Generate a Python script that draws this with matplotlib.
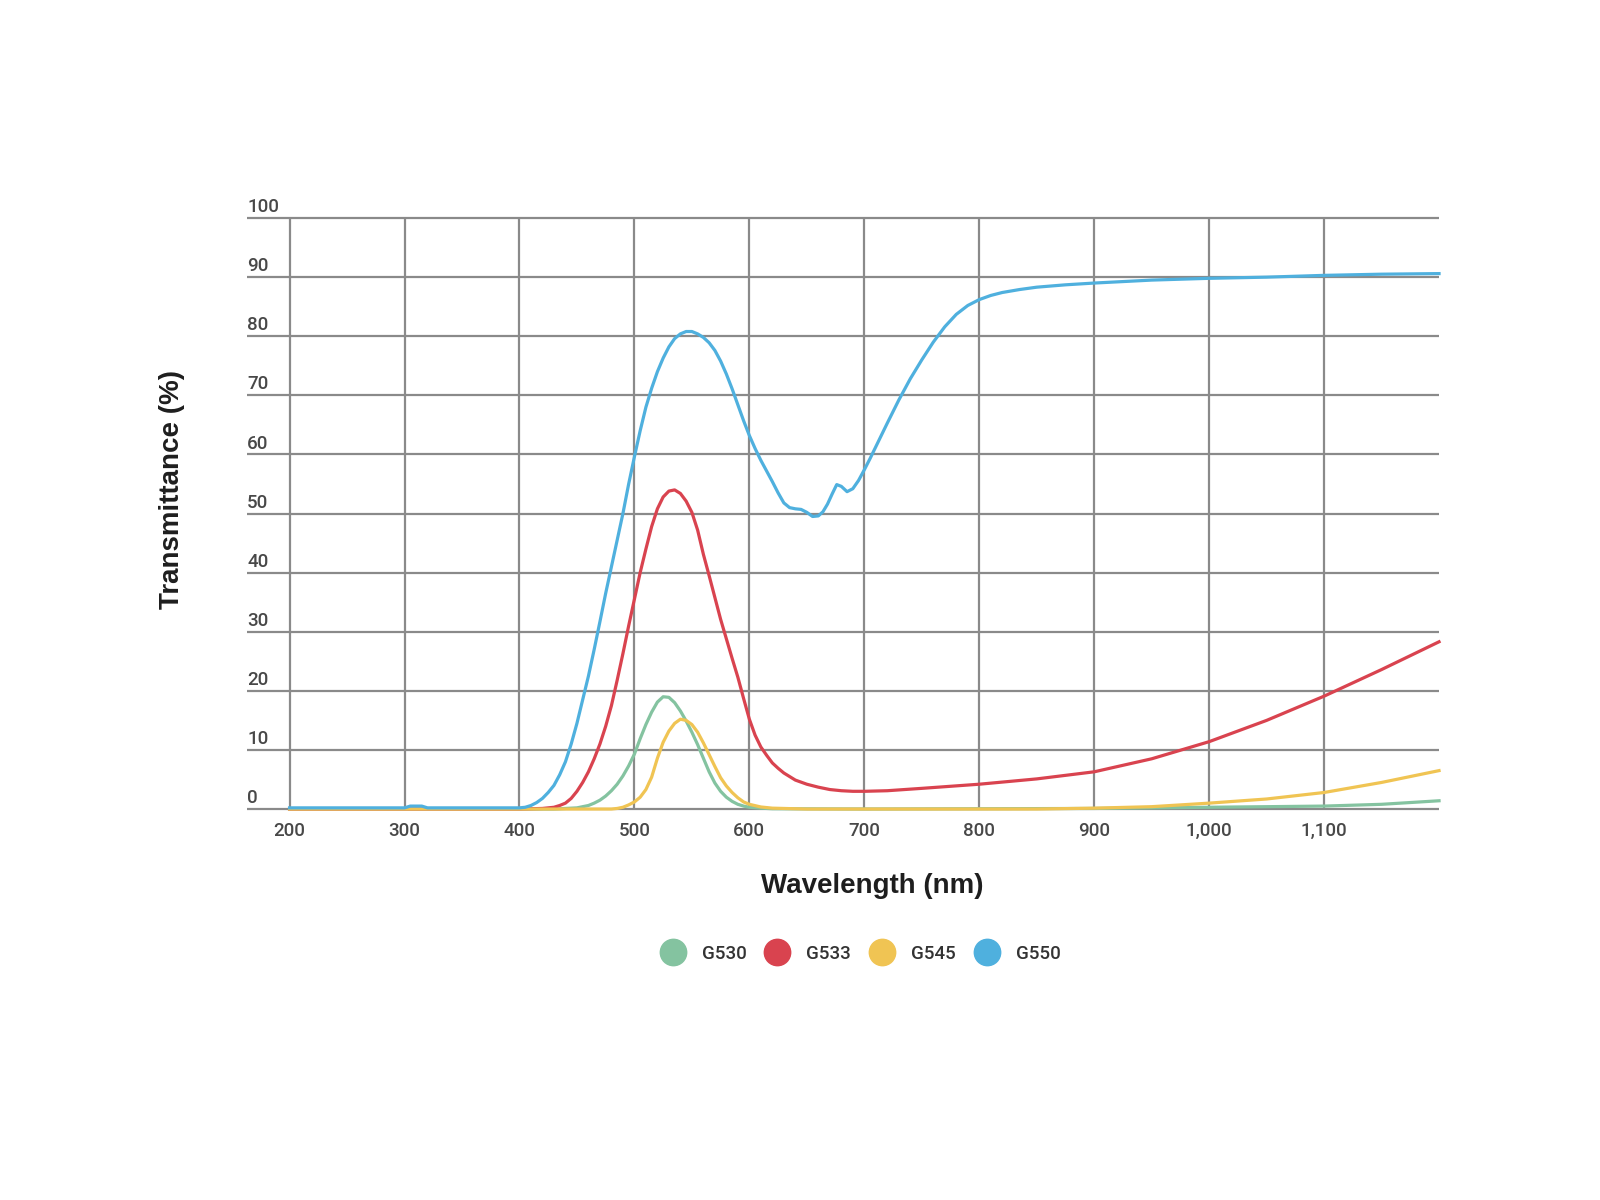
import numpy as np
import matplotlib.pyplot as plt
from matplotlib.lines import Line2D
from matplotlib.transforms import blended_transform_factory

plt.rcParams['font.family'] = ['Roboto', 'DejaVu Sans']

# transmittance curves
g550_nm = [200, 250, 300, 305, 315, 320, 350, 400, 405, 410, 415, 420, 425, 430,
           435, 440, 445, 450, 455, 460, 465, 470, 475, 480, 485, 490, 495, 500,
           505, 510, 515, 520, 525, 530, 535, 540, 545, 550, 555, 560, 565, 570,
           575, 580, 585, 590, 595, 600, 605, 610, 615, 620, 625, 630, 635, 640,
           645, 650, 655, 660, 664, 668, 672, 676, 680, 685, 690, 695, 700, 705,
           710, 720, 730, 740, 750, 760, 770, 780, 790, 800, 810, 820, 835, 850,
           875, 900, 950, 1000, 1050, 1100, 1150, 1200]
g550 = [0.2, 0.2, 0.2, 0.5, 0.5, 0.2, 0.2, 0.2, 0.3, 0.6, 1.1, 1.8, 2.8, 4,
        5.8, 8, 11, 14.5, 18.5, 22.5, 27, 31.7, 36.5, 41, 45.5, 50, 55, 59.6,
        64, 68, 71.2, 74, 76.3, 78.2, 79.6, 80.4, 80.8, 80.8, 80.4, 79.8, 78.9, 77.6,
        75.8, 73.6, 71.1, 68.4, 65.7, 63.2, 61, 59, 57.2, 55.4, 53.5, 51.8, 51, 50.8,
        50.7, 50.2, 49.5, 49.6, 50.3, 51.6, 53.3, 54.9, 54.6, 53.7, 54.2, 55.6, 57.4, 59.3,
        61.3, 65.3, 69.2, 72.8, 76, 79, 81.6, 83.7, 85.2, 86.2, 86.9, 87.4, 87.9, 88.3,
        88.7, 89, 89.5, 89.8, 90, 90.3, 90.5, 90.6]

g533_nm = [200, 400, 420, 430, 435, 440, 445, 450, 455, 460, 465, 470, 475, 480,
           485, 490, 495, 500, 505, 510, 515, 520, 525, 530, 535, 540, 545, 550,
           555, 560, 565, 570, 575, 580, 585, 590, 595, 600, 605, 610, 615, 620,
           625, 630, 640, 650, 660, 670, 680, 690, 700, 720, 750, 800, 850, 900,
           950, 1000, 1050, 1100, 1150, 1200]
g533 = [0, 0, 0.1, 0.3, 0.6, 1, 1.8, 3, 4.5, 6.3, 8.5, 11, 14, 17.5,
        21.8, 26.3, 31, 35.5, 40, 44, 47.8, 50.8, 52.8, 53.8, 54, 53.4, 52.1, 50.2,
        47.2, 43.1, 39.5, 35.8, 32.1, 28.8, 25.5, 22.3, 18.7, 15.2, 12.5, 10.5, 9.1, 7.8,
        6.9, 6.1, 4.9, 4.2, 3.7, 3.3, 3.1, 3, 3, 3.1, 3.5, 4.2, 5.1, 6.3,
        8.5, 11.4, 15, 19.1, 23.6, 28.3]

g530_nm = [200, 430, 440, 450, 455, 460, 465, 470, 475, 480, 485, 490, 495, 500,
           505, 510, 515, 520, 525, 530, 535, 540, 545, 550, 555, 560, 565, 570,
           575, 580, 585, 590, 595, 600, 610, 620, 700, 900, 1000, 1100, 1150, 1200]
g530 = [0, 0, 0.1, 0.2, 0.4, 0.6, 1, 1.5, 2.2, 3.1, 4.2, 5.6, 7.3, 9.3,
        11.9, 14.3, 16.4, 18.1, 19, 18.9, 18, 16.6, 14.9, 13, 10.9, 8.6, 6.3, 4.4,
        3, 2, 1.3, 0.8, 0.5, 0.3, 0.15, 0.05, 0, 0.1, 0.3, 0.5, 0.8, 1.4]

g545_nm = [200, 480, 485, 490, 495, 500, 505, 510, 515, 520, 525, 530, 535, 540,
           545, 550, 555, 560, 565, 570, 575, 580, 585, 590, 595, 600, 610, 620,
           650, 850, 900, 950, 1000, 1050, 1100, 1150, 1200]
g545 = [0, 0, 0.1, 0.3, 0.7, 1.2, 2, 3.3, 5.4, 8.6, 11.3, 13.2, 14.5, 15.2,
        15, 14.3, 13, 11.2, 9.2, 7.2, 5.3, 3.9, 2.8, 1.9, 1.2, 0.8, 0.35, 0.15,
        0, 0, 0.15, 0.4, 1, 1.7, 2.8, 4.5, 6.5]

names = ['G530', 'G533', 'G545', 'G550']
colors = ['#84c3a0', '#d9434f', '#f0c453', '#4fb0de']
x_ticks = [200, 300, 400, 500, 600, 700, 800, 900, 1000, 1100]
y_ticks = [0, 10, 20, 30, 40, 50, 60, 70, 80, 90, 100]

fig = plt.figure(figsize=(16, 12), dpi=100)
ax = fig.add_axes([0.1544, 0.3258, 0.745, 0.4925])
ax.set_xlim(163, 1200)
ax.set_ylim(0, 100)
for s in ax.spines.values():
    s.set_visible(False)

grid_c = '#8a8a8a'
ax.hlines(y_ticks, 163, 1200, colors=grid_c, lw=1.6, clip_on=False, zorder=1)
ax.vlines(x_ticks, 0, 100, colors=grid_c, lw=1.6, clip_on=False, zorder=1)

series = [(g530_nm, g530), (g533_nm, g533), (g545_nm, g545), (g550_nm, g550)]
for (xs, ys), c in zip(series, colors):
    ax.plot(xs, ys, color=c, lw=2.3, zorder=3, clip_on=False,
            solid_joinstyle='round')

ax.set_xticks(x_ticks, ['{:,}'.format(t) for t in x_ticks])
ax.tick_params(axis='x', length=0, pad=9, labelsize=13.5, labelcolor='#484848')
for lbl in ax.get_xticklabels():
    lbl.set_fontweight('medium')
ax.set_yticks([])

trans = blended_transform_factory(ax.transAxes, ax.transData)
for v in y_ticks:
    ax.text(0.0, v + 1.0, str(v), transform=trans, ha='left', va='baseline',
            fontsize=13.5, fontweight='medium', color='#484848')

lab_font = ['Liberation Sans', 'DejaVu Sans']
fig.text(0.545, 0.262, 'Wavelength (nm)', ha='center', va='center',
         fontsize=20, fontweight='bold', color='#1e1e1e', family=lab_font)
fig.text(0.1075, 0.592, 'Transmittance (%)', ha='center', va='center',
         rotation=90, fontsize=20, fontweight='bold', color='#1e1e1e',
         family=lab_font)

handles = [Line2D([], [], ls='none', marker='o', markersize=19,
                  markerfacecolor=c, markeredgecolor=c) for c in colors]
leg = fig.legend(handles, names, loc='center', bbox_to_anchor=(0.5375, 0.205),
                 ncol=4, frameon=False, fontsize=13.5, handlelength=1.4,
                 handletextpad=0.85, columnspacing=0.95, labelcolor='#333333')
for t in leg.get_texts():
    t.set_fontweight('medium')

fig.savefig('out.png', dpi=100)
